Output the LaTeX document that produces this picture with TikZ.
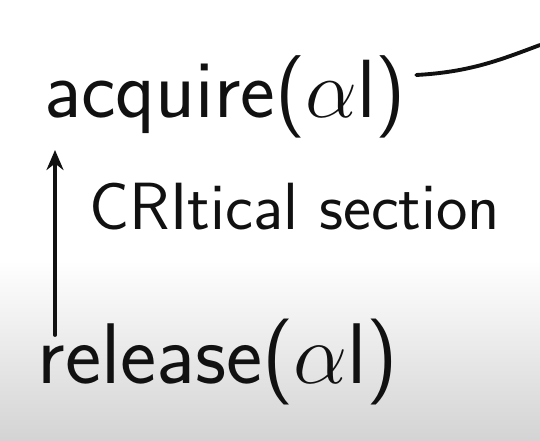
\RequirePackage{fix-cm}
\documentclass[tikz,border=0pt]{standalone}
\usepackage{tikz}
\usetikzlibrary{arrows.meta,positioning}
\definecolor{ink}{HTML}{111111}

\begin{document}
\begin{tikzpicture}[x=0.02cm, y=-0.02cm,
    >={Stealth[length=4mm, width=3.4mm]},
    hand/.style={text=ink, inner sep=0pt},
    pen/.style={draw=ink, line width=2.2pt, line cap=round},
  ]
  % board, white fading to grey at the bottom
  \fill[white] (0,0) rectangle (540,260);
  \shade[top color=white, bottom color=black!17] (0,260) rectangle (540,440);
  \useasboundingbox (0,0) rectangle (540,440);

  \node[hand, font=\sffamily\fontsize{47}{52}\selectfont] (acq) at (225,97) {acquire($\alpha$l)};
  \node[hand, font=\sffamily\fontsize{38}{42}\selectfont] (crit) at (295,207) {CRItical section};
  \node[hand, font=\sffamily\fontsize{49}{54}\selectfont] (rel) at (218,362) {release($\alpha$l)};

  \coordinate (tail) at (540,45);
  \coordinate (top) at (55,150);
  \coordinate (bot) at (55,335);

  \draw[pen] (acq.east) ++(10,-22) .. controls (470,72) and (500,60) .. (tail);
  \draw[pen, ->] (bot) -- (top);
\end{tikzpicture}
\end{document}
